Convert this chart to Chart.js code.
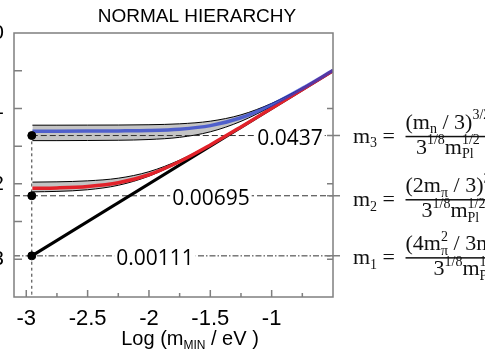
<!DOCTYPE html>
<html>
<head>
<meta charset="utf-8">
<script src="https://cdn.jsdelivr.net/npm/chart.js@4.4.0/dist/chart.umd.min.js"></script>
<style>
  html, body { margin: 0; padding: 0; background: #fff; overflow: hidden; }
  #wrap { position: absolute; left: -40px; top: 0; width: 565px; height: 360px; }
</style>
</head>
<body>
<div id="wrap"><canvas id="chart"></canvas></div>
<script>
// Neutrino masses vs lightest mass, normal hierarchy. All values are log10(m / eV).

// lightest state m1 = m_MIN
var lightX = [-2.955, -0.5];
var lightY = [-2.955, -0.5];

// sample points along the m2 / m3 curves
var bandX = [-2.95, -2.75, -2.5, -2.25, -2.0, -1.75, -1.5, -1.25, -1.0, -0.75, -0.5];

var m3Mid = [-1.301, -1.301, -1.300, -1.298, -1.293, -1.275, -1.228, -1.124, -0.952, -0.734, -0.495];
var m3Hi  = [-1.222, -1.222, -1.221, -1.220, -1.216, -1.204, -1.169, -1.085, -0.933, -0.727, -0.492];
var m3Lo  = [-1.427, -1.427, -1.425, -1.422, -1.412, -1.383, -1.310, -1.171, -0.972, -0.741, -0.497];

var m2Mid = [-2.059, -2.054, -2.035, -1.986, -1.879, -1.704, -1.484, -1.245, -0.998, -0.750, -0.500];
var m2Hi  = [-1.977, -1.973, -1.960, -1.925, -1.839, -1.685, -1.477, -1.243, -0.998, -0.749, -0.500];
var m2Lo  = [-2.106, -2.100, -2.078, -2.019, -1.898, -1.712, -1.487, -1.246, -0.999, -0.750, -0.500];

// predicted masses (eV) at the smallest m_MIN
var floorMasses = [0.0437, 0.00695, 0.00111];
var floorLabels = ['0.0437', '0.00695', '0.00111'];
var floorX = -2.955;

// axes
var xTicks = [-3, -2.5, -2, -1.5, -1];
var xTickLabels = ['-3', '-2.5', '-2', '-1.5', '-1'];
var xMinorTicks = [-2.75, -2.25, -1.75, -1.25, -0.75];
var yTicks = [0, -1, -2, -3];
var yTickLabels = ['0', '-1', '-2', '-3'];
var yLeftTicks = [-0.5, -1, -1.5, -2, -2.5, -3];
var yRightTicks = [-1, -2, -3];

var SANS = "'Liberation Sans', Arial, sans-serif";
var SERIF = "'Liberation Serif', 'Times New Roman', serif";

function pts(xs, ys) {
    return xs.map(function (v, i) { return {x: v, y: ys[i]}; });
}

//
// Draw a run of text with sub/superscripts, returns its width.
//
function runs(ctx, items, x, y, size, small, family, draw) {
    var cx = x;
    items.forEach(function (it) {
        var w = 0;
        if (it.t !== undefined) {
            ctx.font = size + 'px ' + family;
            if (draw) ctx.fillText(it.t, cx, y);
            w = ctx.measureText(it.t).width;
        } else {
            ctx.font = small + 'px ' + family;
            if (it.sub) {
                if (draw) ctx.fillText(it.sub, cx, y + size * 0.22);
                w = Math.max(w, ctx.measureText(it.sub).width);
            }
            if (it.sup) {
                if (draw) ctx.fillText(it.sup, cx, y - size * 0.42);
                w = Math.max(w, ctx.measureText(it.sup).width);
            }
        }
        cx += w;
    });
    return cx - x;
}

var denominator = [{t: '3'}, {sup: '1/8'}, {t: 'm'}, {sub: 'Pl', sup: '1/2'}];
var formulas = [
    {lhs: '3', off: 1, num: [{t: '(m'}, {sub: 'n'}, {t: ' / 3)'}, {sup: '3/2'}]},
    {lhs: '2', off: 4, num: [{t: '(2m'}, {sub: '\u03c0'}, {t: ' / 3)'}, {sup: '3/2'}]},
    {lhs: '1', off: 2, num: [{t: '(4m'}, {sub: '\u03c0', sup: '2'}, {t: ' / 3m'}, {sub: 'n'}, {t: ')'}, {sup: '3/2'}]}
];
var labelX = [-0.851, -1.495, -1.951];

var decorations = {
    id: 'decorations',
    afterDatasetsDraw: function (chart) {
        var ctx = chart.ctx, a = chart.chartArea, x = chart.scales.x, y = chart.scales.y;
        ctx.save();

        // frame and inward ticks
        ctx.strokeStyle = '#7f7f7f';
        ctx.lineWidth = 1.5;
        ctx.strokeRect(a.left, a.top, a.right - a.left, a.bottom - a.top);
        ctx.beginPath();
        xTicks.forEach(function (v) {
            var px = x.getPixelForValue(v);
            ctx.moveTo(px, a.bottom); ctx.lineTo(px, a.bottom - 7);
        });
        xMinorTicks.forEach(function (v) {
            var px = x.getPixelForValue(v);
            ctx.moveTo(px, a.bottom); ctx.lineTo(px, a.bottom - 4);
        });
        yLeftTicks.forEach(function (v) {
            var py = y.getPixelForValue(v);
            ctx.moveTo(a.left, py); ctx.lineTo(a.left + 8, py);
        });
        yRightTicks.forEach(function (v) {
            var py = y.getPixelForValue(v);
            ctx.moveTo(a.right, py); ctx.lineTo(a.right - 6, py);
        });
        floorMasses.forEach(function (m) {
            var py = y.getPixelForValue(Math.log10(m));
            ctx.moveTo(a.right - 6, py); ctx.lineTo(a.right + 7, py);
        });
        ctx.stroke();

        // value labels on the dashed lines
        ctx.font = "21px 'Open Sans', sans-serif";
        ctx.textAlign = 'center';
        ctx.textBaseline = 'alphabetic';
        floorLabels.forEach(function (t, i) {
            var px = x.getPixelForValue(labelX[i]);
            var py = y.getPixelForValue(Math.log10(floorMasses[i]));
            var w = ctx.measureText(t).width;
            ctx.fillStyle = '#fff';
            ctx.fillRect(px - w / 2 - 2, py - 9, w + 4, 19);
            ctx.fillStyle = '#000';
            ctx.fillText(t, px, py + 9);
        });

        // title
        ctx.font = '19px ' + SANS;
        ctx.fillText('NORMAL HIERARCHY', a.left + 183, 22);

        // x axis title
        ctx.textAlign = 'left';
        var xt = [{t: 'Log (m'}, {sub: 'MIN'}, {t: ' / eV )'}];
        var tw = runs(ctx, xt, 0, 0, 20, 12, SANS, false);
        runs(ctx, xt, a.left + 176 - tw / 2, 345, 20, 12, SANS, true);

        // formulas on the right
        ctx.fillStyle = '#111';
        formulas.forEach(function (f, i) {
            var cy = y.getPixelForValue(Math.log10(floorMasses[i])) + f.off;
            var x0 = a.right + 20;
            var lw = runs(ctx, [{t: 'm'}, {sub: f.lhs}, {t: ' = '}], x0, cy + 6, 22, 14, SERIF, true);
            var bx = x0 + lw + 5;
            var nw = runs(ctx, f.num, 0, 0, 22, 14, SERIF, false);
            var dw = runs(ctx, denominator, 0, 0, 22, 14, SERIF, false);
            var bw = Math.max(nw, dw);
            runs(ctx, f.num, bx + (bw - nw) / 2, cy - 8, 22, 14, SERIF, true);
            runs(ctx, denominator, bx + (bw - dw) / 2, cy + 17, 22, 14, SERIF, true);
            ctx.fillRect(bx, cy - 0.75, bw, 1.5);
        });

        ctx.restore();
    }
};

var blue = 'rgba(40, 62, 205, 0.75)';
var red = '#e2222a';
var band = '#c4c4c4';

var floorSets = floorMasses.map(function (m, i) {
    var ly = Math.log10(m);
    return {
        data: pts([i === 0 ? floorX : -3.1, -0.5], [ly, ly]),
        borderColor: '#333', borderWidth: 1,
        borderDash: i === 2 ? [6, 2, 1.5, 2] : [6, 3],
        order: 4
    };
});

var datasets = [
    {   // points at m_MIN
        data: pts([floorX, floorX, floorX], floorMasses.map(Math.log10)),
        showLine: false, pointRadius: 4, backgroundColor: '#000', borderColor: '#000', order: 0
    },
    {data: pts(bandX, m3Mid), borderColor: blue, borderWidth: 3.5, order: 1},
    {data: pts(bandX, m2Mid), borderColor: red, borderWidth: 3.5, order: 2},
    {data: pts(lightX, lightY), borderColor: '#000', borderWidth: 3, order: 3},
    {   // vertical guide
        data: pts([floorX, floorX], [Math.log10(floorMasses[0]), -3.5]),
        borderColor: '#333', borderWidth: 1, borderDash: [3, 3], order: 4
    }
].concat(floorSets).concat([
    {data: pts(bandX, m3Hi), borderColor: '#000', borderWidth: 1, fill: '+1', backgroundColor: band, order: 5},
    {data: pts(bandX, m3Lo), borderColor: '#000', borderWidth: 1, order: 5},
    {data: pts(bandX, m2Hi), borderColor: '#000', borderWidth: 1, fill: '+1', backgroundColor: band, order: 5},
    {data: pts(bandX, m2Lo), borderColor: '#000', borderWidth: 1, order: 5}
]);

new Chart(document.getElementById('chart'), {
    type: 'line',
    data: {datasets: datasets},
    options: {
        responsive: true,
        maintainAspectRatio: false,
        animation: false,
        layout: {padding: {top: 33, right: 192, left: 0, bottom: 0}},
        plugins: {
            legend: {display: false},
            tooltip: {enabled: false},
            filler: {drawTime: 'beforeDatasetsDraw'}
        },
        elements: {
            point: {radius: 0},
            line: {cubicInterpolationMode: 'monotone', fill: false}
        },
        scales: {
            x: {
                type: 'linear', min: -3.1, max: -0.5,
                grid: {display: false, drawTicks: false},
                border: {display: false},
                afterBuildTicks: function (s) { s.ticks = xTicks.map(function (v) { return {value: v}; }); },
                afterFit: function (s) { s.height = 63; },
                ticks: {
                    callback: function (v, i) { return xTickLabels[i]; },
                    font: {family: SANS, size: 22}, color: '#000',
                    padding: 9, maxRotation: 0, autoSkip: false
                }
            },
            y: {
                type: 'linear', min: -3.5, max: 0,
                grid: {display: false, drawTicks: false},
                border: {display: false},
                afterBuildTicks: function (s) { s.ticks = yTicks.map(function (v) { return {value: v}; }); },
                afterFit: function (s) { s.width = 54; },
                ticks: {
                    callback: function (v, i) { return yTickLabels[i]; },
                    font: {family: SANS, size: 21}, color: '#000',
                    padding: 10, autoSkip: false
                }
            }
        }
    },
    plugins: [decorations]
});
</script>
</body>
</html>
